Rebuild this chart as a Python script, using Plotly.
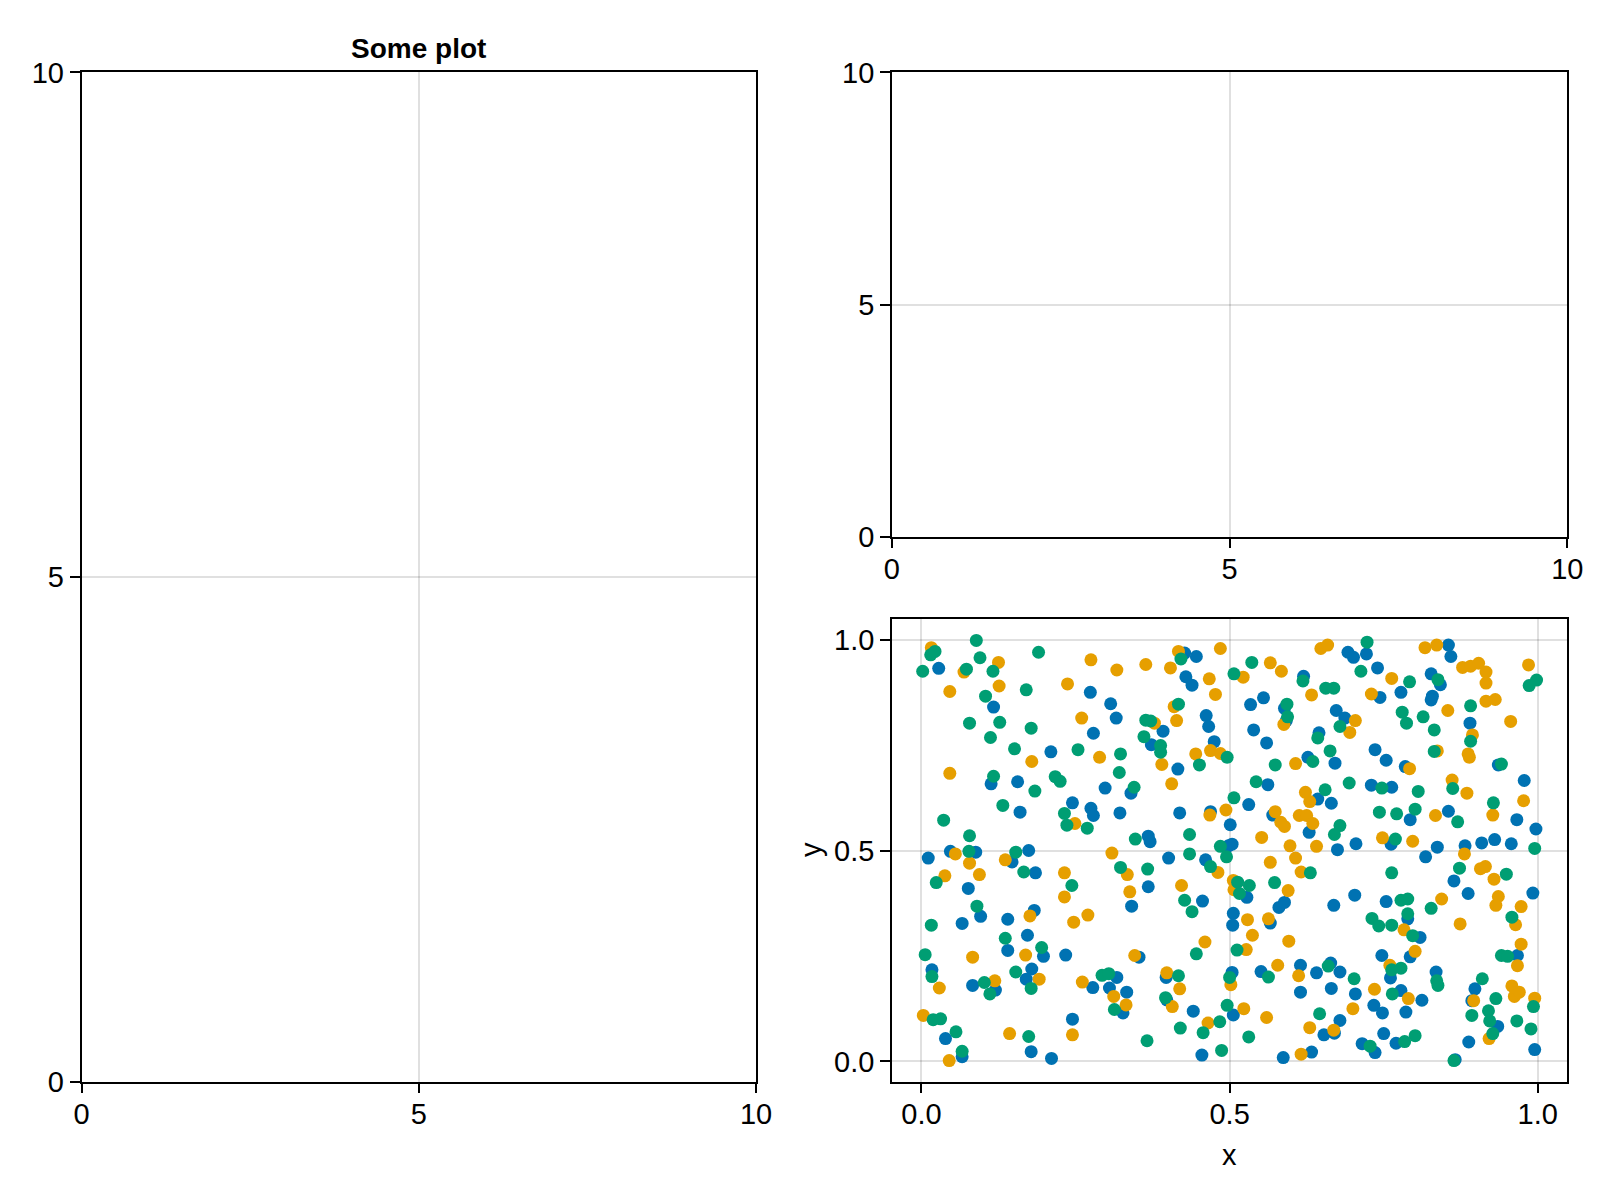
import plotly.graph_objects as go

# scatter data (three series, Makie colour cycle)
blue_x = [0.028, 0.117, 0.274, 0.307, 0.316, 0.279, 0.210, 0.113, 0.156, 0.298, 0.245, 0.160, 0.275, 0.279,
          0.427, 0.446, 0.429, 0.439, 0.620, 0.534, 0.555, 0.589, 0.592, 0.673, 0.462, 0.466, 0.392, 0.373,
          0.475, 0.416, 0.340, 0.539, 0.560, 0.645, 0.627, 0.671, 0.562, 0.643, 0.665, 0.531, 0.322, 0.419,
          0.469, 0.501, 0.570, 0.629, 0.368, 0.371, 0.498, 0.504, 0.675,
          0.692, 0.701, 0.722, 0.740, 0.744, 0.778, 0.855, 0.859, 0.827, 0.842, 0.829, 0.827, 0.687, 0.890,
          0.736, 0.754, 0.785, 0.936, 0.730, 0.763, 0.978, 0.793, 0.855, 0.966, 0.997, 0.762, 0.705, 0.837,
          0.882, 0.909, 0.930, 0.957,
          0.047, 0.088, 0.174, 0.147, 0.011, 0.076, 0.185, 0.096, 0.066, 0.140, 0.183, 0.172, 0.140, 0.198,
          0.234, 0.017, 0.179, 0.170, 0.083, 0.120, 0.278, 0.317, 0.305, 0.245, 0.039, 0.066, 0.178, 0.211,
          0.368, 0.341, 0.401, 0.461, 0.456, 0.528, 0.580, 0.589, 0.669, 0.506, 0.505, 0.566, 0.353, 0.397,
          0.398, 0.504, 0.551, 0.615, 0.641, 0.664, 0.679, 0.615, 0.665, 0.333, 0.327, 0.506, 0.441, 0.653,
          0.670, 0.679, 0.455, 0.587, 0.633,
          0.818, 0.864, 0.887, 0.992, 0.703, 0.754, 0.789, 0.809, 0.747, 0.793, 0.967, 0.761, 0.835, 0.704,
          0.778, 0.812, 0.898, 0.893, 0.734, 0.748, 0.786, 0.935, 0.750, 0.770, 0.715, 0.736, 0.888, 0.995,
          0.866]
blue_y = [0.932, 0.840, 0.875, 0.848, 0.814, 0.778, 0.734, 0.658, 0.663, 0.648, 0.613, 0.591, 0.600, 0.583,
          0.968, 0.960, 0.912, 0.892, 0.913, 0.846, 0.862, 0.837, 0.808, 0.832, 0.820, 0.794, 0.783, 0.751,
          0.758, 0.693, 0.636, 0.786, 0.755, 0.779, 0.721, 0.707, 0.656, 0.622, 0.612, 0.609, 0.589, 0.589,
          0.592, 0.561, 0.584, 0.543, 0.534, 0.521, 0.511, 0.515, 0.502,
          0.970, 0.958, 0.966, 0.933, 0.863, 0.875, 0.987, 0.960, 0.919, 0.893, 0.866, 0.857, 0.814, 0.802,
          0.739, 0.714, 0.699, 0.703, 0.655, 0.650, 0.666, 0.573, 0.593, 0.573, 0.551, 0.515, 0.516, 0.508,
          0.511, 0.518, 0.526, 0.516,
          0.498, 0.496, 0.500, 0.473, 0.482, 0.410, 0.447, 0.344, 0.327, 0.337, 0.358, 0.299, 0.263, 0.249,
          0.252, 0.217, 0.219, 0.195, 0.180, 0.169, 0.175, 0.199, 0.174, 0.100, 0.054, 0.011, 0.023, 0.007,
          0.414, 0.368, 0.482, 0.478, 0.380, 0.389, 0.365, 0.377, 0.370, 0.351, 0.323, 0.328, 0.247, 0.199,
          0.146, 0.211, 0.213, 0.228, 0.210, 0.233, 0.212, 0.164, 0.173, 0.164, 0.115, 0.110, 0.119, 0.063,
          0.067, 0.097, 0.015, 0.009, 0.022,
          0.485, 0.428, 0.398, 0.399, 0.394, 0.379, 0.338, 0.294, 0.251, 0.248, 0.251, 0.198, 0.212, 0.160,
          0.168, 0.145, 0.172, 0.144, 0.133, 0.115, 0.117, 0.083, 0.066, 0.043, 0.042, 0.021, 0.046, 0.028,
          0.004]

orange_x = [0.016, 0.125, 0.069, 0.275, 0.317, 0.046, 0.126, 0.237, 0.260, 0.289, 0.179, 0.046, 0.249,
            0.364, 0.404, 0.417, 0.485, 0.467, 0.477, 0.522, 0.566, 0.584, 0.648, 0.659, 0.633, 0.588, 0.378,
            0.469, 0.485, 0.445, 0.390, 0.406, 0.607, 0.623, 0.630, 0.468, 0.494, 0.574, 0.583, 0.589, 0.613,
            0.625, 0.635, 0.552, 0.598, 0.641, 0.410, 0.414,
            0.763, 0.730, 0.817, 0.836, 0.878, 0.891, 0.904, 0.916, 0.916, 0.985, 0.916, 0.931, 0.854, 0.704,
            0.695, 0.956, 0.894, 0.837, 0.887, 0.889, 0.792, 0.861, 0.885, 0.977, 0.927, 0.834, 0.748, 0.797,
            0.055, 0.136, 0.309, 0.078, 0.094, 0.038, 0.232, 0.232, 0.176, 0.247, 0.270, 0.169, 0.083, 0.029,
            0.191, 0.119, 0.261, 0.312, 0.003, 0.245, 0.143, 0.045,
            0.334, 0.338, 0.481, 0.422, 0.566, 0.607, 0.616, 0.506, 0.507, 0.595, 0.529, 0.563, 0.537, 0.596,
            0.460, 0.527, 0.346, 0.398, 0.419, 0.407, 0.502, 0.578, 0.612, 0.332, 0.523, 0.465, 0.560, 0.630,
            0.669, 0.616,
            0.881, 0.907, 0.915, 0.929, 0.844, 0.936, 0.932, 0.973, 0.783, 0.874, 0.964, 0.973, 0.801, 0.967,
            0.760, 0.958, 0.962, 0.970, 0.995, 0.735, 0.790, 0.896, 0.700, 0.921]
orange_y = [0.981, 0.946, 0.923, 0.952, 0.928, 0.877, 0.890, 0.895, 0.814, 0.721, 0.711, 0.683, 0.564,
            0.941, 0.933, 0.972, 0.979, 0.907, 0.870, 0.911, 0.945, 0.925, 0.979, 0.987, 0.869, 0.799, 0.802,
            0.737, 0.730, 0.729, 0.704, 0.658, 0.706, 0.638, 0.616, 0.584, 0.596, 0.592, 0.567, 0.557, 0.583,
            0.583, 0.564, 0.531, 0.511, 0.510, 0.841, 0.808,
            0.908, 0.871, 0.981, 0.987, 0.934, 0.937, 0.944, 0.923, 0.897, 0.940, 0.854, 0.858, 0.832, 0.808,
            0.780, 0.806, 0.774, 0.736, 0.729, 0.721, 0.694, 0.667, 0.636, 0.618, 0.584, 0.583, 0.530, 0.522,
            0.492, 0.478, 0.494, 0.470, 0.443, 0.440, 0.447, 0.390, 0.345, 0.330, 0.347, 0.252, 0.247, 0.174,
            0.195, 0.191, 0.188, 0.154, 0.109, 0.063, 0.066, 0.002,
            0.443, 0.402, 0.448, 0.417, 0.472, 0.482, 0.449, 0.429, 0.407, 0.405, 0.336, 0.338, 0.299, 0.285,
            0.283, 0.265, 0.251, 0.210, 0.172, 0.130, 0.182, 0.228, 0.203, 0.134, 0.125, 0.091, 0.104, 0.080,
            0.074, 0.017,
            0.492, 0.457, 0.462, 0.432, 0.385, 0.391, 0.370, 0.367, 0.312, 0.326, 0.324, 0.278, 0.261, 0.227,
            0.228, 0.179, 0.154, 0.164, 0.150, 0.171, 0.149, 0.144, 0.125, 0.054]

green_x = [0.015, 0.022, 0.089, 0.190, 0.095, 0.002, 0.073, 0.116, 0.170, 0.104, 0.078, 0.127, 0.178,
           0.112, 0.151, 0.254, 0.117, 0.217, 0.225, 0.184, 0.132, 0.232, 0.236, 0.269, 0.036, 0.078,
           0.421, 0.507, 0.536, 0.619, 0.656, 0.669, 0.593, 0.594, 0.679, 0.364, 0.372, 0.361, 0.388, 0.388,
           0.496, 0.451, 0.323, 0.321, 0.345, 0.643, 0.663, 0.635, 0.574, 0.543, 0.655, 0.507, 0.679, 0.670,
           0.347, 0.435, 0.485, 0.417,
           0.723, 0.713, 0.792, 0.838, 0.986, 0.998, 0.891, 0.780, 0.787, 0.814, 0.832, 0.891, 0.832, 0.941,
           0.694, 0.747, 0.806, 0.862, 0.928, 0.743, 0.771, 0.801, 0.870, 0.769, 0.995,
           0.077, 0.153, 0.024, 0.166, 0.244, 0.090, 0.016, 0.136, 0.195, 0.006, 0.017, 0.153, 0.178, 0.102,
           0.111, 0.293, 0.304, 0.313, 0.019, 0.031, 0.056, 0.174, 0.066,
           0.323, 0.367, 0.435, 0.469, 0.495, 0.427, 0.439, 0.631, 0.513, 0.532, 0.516, 0.573, 0.446, 0.512,
           0.417, 0.396, 0.500, 0.563, 0.660, 0.496, 0.484, 0.457, 0.420, 0.366, 0.531, 0.646, 0.487,
           0.763, 0.873, 0.949, 0.778, 0.789, 0.827, 0.731, 0.742, 0.763, 0.789, 0.797, 0.958, 0.941, 0.951,
           0.763, 0.778, 0.836, 0.838, 0.702, 0.910, 0.993, 0.764, 0.932, 0.893, 0.920, 0.922, 0.966, 0.989,
           0.801, 0.784, 0.728, 0.927, 0.864]
green_y = [0.964, 0.972, 0.998, 0.970, 0.957, 0.925, 0.930, 0.925, 0.881, 0.866, 0.802, 0.804, 0.790,
           0.768, 0.741, 0.739, 0.676, 0.675, 0.664, 0.641, 0.607, 0.588, 0.560, 0.553, 0.572, 0.535,
           0.954, 0.919, 0.946, 0.902, 0.885, 0.885, 0.847, 0.817, 0.794, 0.809, 0.807, 0.770, 0.749, 0.733,
           0.721, 0.703, 0.729, 0.685, 0.650, 0.767, 0.736, 0.711, 0.703, 0.663, 0.644, 0.625, 0.559, 0.538,
           0.527, 0.538, 0.510, 0.847,
           0.994, 0.925, 0.900, 0.905, 0.891, 0.904, 0.843, 0.828, 0.802, 0.817, 0.786, 0.759, 0.735, 0.705,
           0.660, 0.648, 0.640, 0.647, 0.613, 0.591, 0.587, 0.598, 0.568, 0.527, 0.505,
           0.498, 0.496, 0.424, 0.449, 0.417, 0.368, 0.323, 0.292, 0.270, 0.253, 0.201, 0.212, 0.173, 0.187,
           0.160, 0.204, 0.208, 0.123, 0.099, 0.101, 0.070, 0.059, 0.024,
           0.460, 0.456, 0.492, 0.462, 0.485, 0.382, 0.355, 0.447, 0.425, 0.417, 0.398, 0.424, 0.255, 0.264,
           0.203, 0.151, 0.199, 0.200, 0.226, 0.133, 0.094, 0.068, 0.079, 0.049, 0.058, 0.113, 0.026,
           0.447, 0.458, 0.444, 0.382, 0.385, 0.363, 0.339, 0.321, 0.323, 0.350, 0.298, 0.342, 0.251, 0.249,
           0.217, 0.221, 0.191, 0.180, 0.196, 0.196, 0.130, 0.160, 0.149, 0.109, 0.120, 0.096, 0.096, 0.077,
           0.061, 0.047, 0.036, 0.066, 0.002]

empty_ticks = [0, 5, 10]
unit_ticks = [0.0, 0.5, 1.0]

FONT = "Liberation Sans"
GRID = "rgba(0,0,0,0.12)"

fig = go.Figure()

for xs, ys, col in [(blue_x, blue_y, "#0072B2"),
                    (orange_x, orange_y, "#E69F00"),
                    (green_x, green_y, "#009E73")]:
    fig.add_trace(go.Scatter(x=xs, y=ys, mode="markers", xaxis="x3", yaxis="y3",
                             marker=dict(size=13, color=col, line=dict(width=0)),
                             showlegend=False, hoverinfo="skip"))

axis_style = dict(
    showline=True, linecolor="black", linewidth=1.5, mirror=True,
    ticks="outside", ticklen=10, tickwidth=1.5, tickcolor="black",
    showgrid=True, gridcolor=GRID, gridwidth=1.5, zeroline=False,
    tickfont=dict(family=FONT, size=29, color="black"),
    automargin=False,
)
x_style = dict(axis_style, ticklabelstandoff=-4)
y_style = dict(axis_style, ticklabelstandoff=0)

# page body has an 8px margin, so the figure is 8px smaller than the window
fig.update_layout(
    width=1592, height=1192,
    margin=dict(l=0, r=0, t=0, b=0, autoexpand=False),
    paper_bgcolor="white", plot_bgcolor="white",
    showlegend=False,
    xaxis=dict(domain=[0.0462, 0.4699], range=[0, 10], tickvals=empty_ticks, anchor="y", **x_style),
    yaxis=dict(domain=[0.0993, 0.9460], range=[0, 10], tickvals=empty_ticks, anchor="x", **y_style),
    xaxis2=dict(domain=[0.5552, 0.9795], range=[0, 10], tickvals=empty_ticks, anchor="y2", **x_style),
    yaxis2=dict(domain=[0.5565, 0.9460], range=[0, 10], tickvals=empty_ticks, anchor="x2", **y_style),
    xaxis3=dict(domain=[0.5552, 0.9795], range=[-0.048, 1.048], tickvals=unit_ticks, tickformat=".1f",
                anchor="y3", **x_style),
    yaxis3=dict(domain=[0.0993, 0.4871], range=[-0.048, 1.048], tickvals=unit_ticks, tickformat=".1f",
                anchor="x3", **y_style),
)

# dummy traces so the empty axes get drawn
fig.add_trace(go.Scatter(x=[], y=[], xaxis="x", yaxis="y", showlegend=False))
fig.add_trace(go.Scatter(x=[], y=[], xaxis="x2", yaxis="y2", showlegend=False))

fig.add_annotation(text="<b>Some plot</b>", x=0.2580, y=0.9664, xref="paper", yref="paper",
                   xanchor="center", yanchor="middle",
                   showarrow=False, font=dict(family=FONT, size=28, color="black"))
fig.add_annotation(text="x", x=0.7673, y=0.0378, xref="paper", yref="paper",
                   xanchor="center", yanchor="middle",
                   showarrow=False, font=dict(family=FONT, size=29, color="black"))
fig.add_annotation(text="y", x=0.5044, y=0.2936, xref="paper", yref="paper", textangle=-90,
                   xanchor="center", yanchor="middle",
                   showarrow=False, font=dict(family=FONT, size=29, color="black"))

fig.write_html("out.html")
